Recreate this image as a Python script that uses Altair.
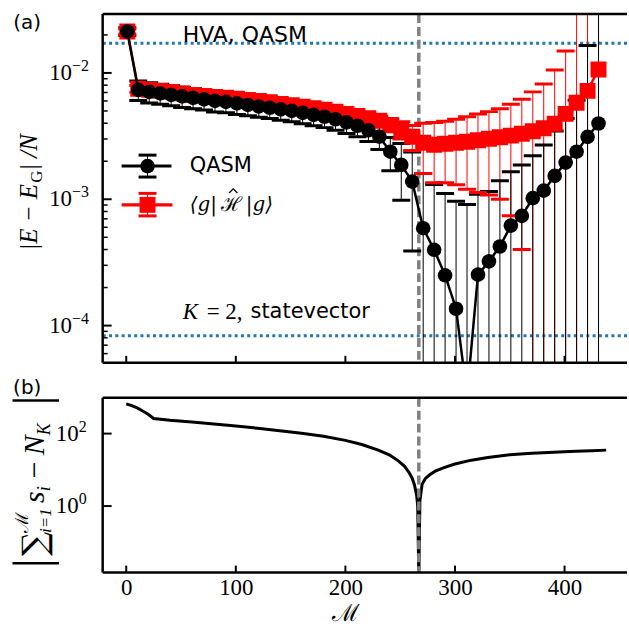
import altair as alt
import pandas as pd

# ---------------------------------------------------------------- data
# circuit depth index (x) for the energy-error points
M = [1, 11, 21, 31, 41, 51, 61, 71, 81, 91,
     101, 111, 121, 131, 141, 151, 161, 171, 181, 191,
     201, 211, 221, 231, 241, 251, 261, 271, 281, 291,
     301, 311, 321, 331, 341, 351, 361, 371, 381, 391,
     401, 411, 421, 431]

# QASM energy error |E - E_G|/N and its (symmetric) error bar
qasm = [2.13e-2, 7.34e-3, 7.08e-3, 6.89e-3, 6.70e-3, 6.52e-3, 6.35e-3, 6.18e-3, 6.01e-3, 5.90e-3,
        5.74e-3, 5.58e-3, 5.43e-3, 5.30e-3, 5.15e-3, 5.01e-3, 4.83e-3, 4.66e-3, 4.50e-3, 4.30e-3,
        4.06e-3, 3.82e-3, 3.52e-3, 3.13e-3, 2.38e-3, 1.87e-3, 1.38e-3, 5.90e-4, 3.98e-4, 2.50e-4,
        1.36e-4, 2.8e-5, 2.53e-4, 3.22e-4, 4.23e-4, 6.19e-4, 7.39e-4, 1.02e-3, 1.17e-3, 1.53e-3,
        1.95e-3, 2.38e-3, 3.12e-3, 3.98e-3]
qasm_err = [1.5e-3, 1.3e-3, 1.3e-3, 1.25e-3, 1.2e-3, 1.2e-3, 1.15e-3, 1.1e-3, 1.1e-3, 1.05e-3,
            1.05e-3, 1.0e-3, 9.8e-4, 9.5e-4, 9.3e-4, 9.0e-4, 8.7e-4, 8.4e-4, 8.1e-4, 7.8e-4,
            7.4e-4, 7.0e-4, 6.6e-4, 6.5e-4, 7.0e-4, 8.9e-4, 9.9e-4, 1.01e-3, 9.1e-4, 8.6e-4,
            8.3e-4, 8.8e-4, 8.4e-4, 8.3e-4, 9.8e-4, 1.03e-3, 1.13e-3, 1.19e-3, 1.52e-3, 1.94e-3,
            2.41e-3, 3.70e-3, 1.34e-2, 3.5e-2]

# <g|H|g> energy error and its error bar
g_val = [2.13e-2, 7.49e-3, 7.34e-3, 7.21e-3, 7.08e-3, 6.89e-3, 6.70e-3, 6.58e-3, 6.46e-3, 6.35e-3,
         6.24e-3, 6.12e-3, 6.01e-3, 5.85e-3, 5.69e-3, 5.54e-3, 5.39e-3, 5.25e-3, 5.11e-3, 4.92e-3,
         4.74e-3, 4.57e-3, 4.37e-3, 4.18e-3, 3.88e-3, 3.55e-3, 3.13e-3, 2.80e-3, 2.70e-3, 2.75e-3,
         2.80e-3, 2.85e-3, 2.93e-3, 3.01e-3, 3.10e-3, 3.19e-3, 3.30e-3, 3.45e-3, 3.65e-3, 3.96e-3,
         4.74e-3, 5.80e-3, 7.21e-3, 1.066e-2]
g_err = [1.0e-3, 4.5e-4, 4.4e-4, 4.3e-4, 4.2e-4, 4.1e-4, 4.0e-4, 4.0e-4, 3.9e-4, 3.8e-4,
         3.8e-4, 3.7e-4, 3.6e-4, 3.5e-4, 3.4e-4, 3.3e-4, 3.3e-4, 3.2e-4, 3.1e-4, 3.0e-4,
         3.0e-4, 3.0e-4, 3.2e-4, 3.6e-4, 4.5e-4, 5.5e-4, 7.0e-4, 1.2e-3, 1.35e-3, 1.4e-3,
         1.5e-3, 1.65e-3, 1.8e-3, 1.93e-3, 2.1e-3, 2.45e-3, 2.9e-3, 3.63e-3, 4.53e-3, 6.61e-3,
         1.02e-2, 3.0e-2, 3.0e-2, 3.0e-2]

hva_qasm_level = 1.72e-2      # HVA, QASM reference
statevector_level = 8.3e-5    # K = 2, statevector reference
m_star = 267                  # where the sum of s_i meets N_K

# |sum_{i<=M} s_i - N_K| as a function of M
m_line = [0, 5, 10, 15, 20, 25, 40, 60, 80, 100,
          120, 140, 160, 180, 200, 215, 230, 240, 248, 254,
          258, 261, 263, 265, 266, 267, 268, 270, 273, 277,
          282, 290, 300, 315, 330, 350, 370, 390, 410, 425, 438]
deviation = [660, 590, 510, 420, 340, 262, 232, 208, 185, 163,
             140, 120, 102, 84, 65, 50, 35, 26, 18, 12.5,
             8.5, 5.8, 3.9, 2.0, 1.0, 0.01, 1.4, 4.0, 5.8, 7.3,
             9.2, 11.5, 14.5, 18.5, 22, 26, 28.5, 30.5, 32.5, 33.8, 35]

x_ticks = [0, 100, 200, 300, 400]
top_major = [1e-4, 1e-3, 1e-2]
top_exp = ["\u22124", "\u22123", "\u22122"]
top_minor = [6e-5, 7e-5, 8e-5, 9e-5,
             2e-4, 3e-4, 4e-4, 5e-4, 6e-4, 7e-4, 8e-4, 9e-4,
             2e-3, 3e-3, 4e-3, 5e-3, 6e-3, 7e-3, 8e-3, 9e-3, 2e-2]
bot_major = [1, 100]
bot_exp = ["0", "2"]

# ---------------------------------------------------------------- styles
W = 526
H_TOP = 350
H_BOT = 175.4
SANS = "DejaVu Sans"
SERIF = "Liberation Serif"
BLUE = "#1f77b4"
GREY = "#808080"
RED = "#ff0000"

xs = alt.Scale(domain=[-21.5, 457], nice=False, zero=False)
ys_top = alt.Scale(type="log", domain=[5.07e-5, 0.0293], nice=False)
ys_bot = alt.Scale(type="log", domain=[0.0146, 977], nice=False)

x_axis_bottom = alt.Axis(values=x_ticks, ticks=False, domain=False, grid=False,
                         labelFont=SERIF, labelFontSize=23, labelColor="black",
                         labelPadding=4, labelFlush=False, labelOverlap=False,
                         title="\u2133", titleFont="DejaVu Serif", titleFontSize=24,
                         titleFontWeight="normal", titleColor="black", titlePadding=2,
                         titleX=244, titleAlign="center")

ONE = pd.DataFrame({"k": [0]})


def xt(field="M"):
    return alt.X(f"{field}:Q", scale=xs, axis=None)


def xb(field="M"):
    return alt.X(f"{field}:Q", scale=xs, axis=x_axis_bottom)


def yt(field):
    return alt.Y(f"{field}:Q", scale=ys_top, axis=None)


def yb(field):
    return alt.Y(f"{field}:Q", scale=ys_bot, axis=None)


def label(s, x, y, size, font=SANS, style="normal", align="left",
          baseline="middle", angle=0, color="black"):
    return alt.Chart(ONE).mark_text(
        text=s, font=font, fontSize=size, fontStyle=style, align=align,
        baseline=baseline, angle=angle, color=color
    ).encode(x=alt.value(x), y=alt.value(y))


def hseg(x1, x2, y, width, color="black"):
    return alt.Chart(ONE).mark_rule(color=color, strokeWidth=width).encode(
        x=alt.value(x1), x2=alt.value(x2), y=alt.value(y))


def vseg(x, y1, y2, width, color="black"):
    return alt.Chart(ONE).mark_rule(color=color, strokeWidth=width).encode(
        x=alt.value(x), y=alt.value(y1), y2=alt.value(y2))


def frame(h):
    return [hseg(0, W, 0, 2.5), hseg(0, W, h, 2.5), vseg(0, 0, h, 2.5)]


# ---------------------------------------------------------------- tables
df = pd.DataFrame({"M": M, "qasm": qasm, "qasm_err": qasm_err,
                   "g": g_val, "g_err": g_err})
FLOOR = 1e-9  # error bars reaching below zero run off the bottom of the log axis
df["qasm_lo"] = (df["qasm"] - df["qasm_err"]).clip(lower=FLOOR)
df["qasm_hi"] = df["qasm"] + df["qasm_err"]
df["g_lo"] = (df["g"] - df["g_err"]).clip(lower=FLOOR)
df["g_hi"] = df["g"] + df["g_err"]


def caps(val, err, lo, hi):
    upper = df[["M", hi]].rename(columns={hi: "y"})
    lower = df.loc[df[val] > df[err], ["M", lo]].rename(columns={lo: "y"})
    return pd.concat([upper, lower], ignore_index=True)


q_caps = caps("qasm", "qasm_err", "qasm_lo", "qasm_hi")
g_caps = caps("g", "g_err", "g_lo", "g_hi")

refs = pd.DataFrame({"y": [hva_qasm_level, statevector_level]})
star = pd.DataFrame({"M": [m_star]})
xt_df = pd.DataFrame({"M": x_ticks})
top_lab = pd.DataFrame({"v": top_major, "base": ["10"] * len(top_major), "exp": top_exp})
top_min = pd.DataFrame({"v": top_minor})
bot_lab = pd.DataFrame({"v": bot_major, "base": ["10"] * len(bot_major), "exp": bot_exp})
dev_df = pd.DataFrame({"M": m_line, "dev": deviation})

# ---------------------------------------------------------------- panel (a)
dotted = alt.Chart(refs).mark_rule(color=BLUE, strokeWidth=3, strokeDash=[3, 3.3],
                                   clip=True).encode(y=yt("y"))
dashed_top = alt.Chart(star).mark_rule(color=GREY, strokeWidth=3.5, strokeDash=[9, 4],
                                       clip=True).encode(x=xt())

g_bars = alt.Chart(df).mark_rule(color=RED, strokeWidth=1, clip=True).encode(
    x=xt(), y=yt("g_lo"), y2="g_hi:Q")
g_capm = alt.Chart(g_caps).mark_tick(color=RED, orient="horizontal", size=18,
                                     thickness=3, opacity=1, clip=True).encode(x=xt(), y=yt("y"))
g_line = alt.Chart(df).mark_line(color=RED, strokeWidth=2.5, clip=True).encode(x=xt(), y=yt("g"))
g_pts = alt.Chart(df).mark_point(shape="square", filled=True, size=256, color=RED,
                                 opacity=1, clip=True).encode(x=xt(), y=yt("g"))

q_bars = alt.Chart(df).mark_rule(color="black", strokeWidth=1, clip=True).encode(
    x=xt(), y=yt("qasm_lo"), y2="qasm_hi:Q")
q_capm = alt.Chart(q_caps).mark_tick(color="black", orient="horizontal", size=18,
                                     thickness=3, opacity=1, clip=True).encode(x=xt(), y=yt("y"))
q_line = alt.Chart(df).mark_line(color="black", strokeWidth=2.5, clip=True).encode(x=xt(), y=yt("qasm"))
q_pts = alt.Chart(df).mark_circle(size=215, color="black", opacity=1, clip=True).encode(
    x=xt(), y=yt("qasm"))

top_ticks = [
    alt.Chart(top_lab).mark_rule(color="black", strokeWidth=2).encode(
        y=yt("v"), x=alt.value(0), x2=alt.value(9)),
    alt.Chart(top_min).mark_rule(color="black", strokeWidth=1.5).encode(
        y=yt("v"), x=alt.value(0), x2=alt.value(5)),
    alt.Chart(xt_df).mark_rule(color="black", strokeWidth=2).encode(
        x=xt(), y=alt.value(H_TOP), y2=alt.value(H_TOP - 7)),
    alt.Chart(top_lab).mark_text(font=SERIF, fontSize=23, align="right", baseline="middle").encode(
        x=alt.value(-30.7), y=yt("v"), text="base:N"),
    alt.Chart(top_lab).mark_text(font=SERIF, fontSize=16, align="left", baseline="middle", dy=-7).encode(
        x=alt.value(-30.7), y=yt("v"), text="exp:N"),
]

LEG_G = 191.5  # vertical position of the <g|H|g> legend row
top_text = [
    label("(a)", -75.7, 9.3, 20, align="center"),
    label("HVA, QASM", 80.3, 20.8, 22),
    label("K", 80.3, 298.8, 23, font=SERIF, style="italic"),
    label("= 2,", 104.3, 298.8, 23, font=SERIF),
    label("statevector", 148.3, 298.8, 21),
    # legend
    hseg(19, 69, 152.6, 3),
    vseg(45, 141.6, 163.6, 1),
    hseg(36, 54, 141.6, 3),
    hseg(36, 54, 163.6, 3),
    alt.Chart(ONE).mark_circle(size=215, color="black", opacity=1).encode(
        x=alt.value(45), y=alt.value(152.6)),
    label("QASM", 87.3, 152.6, 21),
    hseg(19, 70, LEG_G, 3.3, RED),
    vseg(45, 180, 202.6, 1, RED),
    hseg(36, 54, 180, 3, RED),
    hseg(36, 54, 202.6, 3, RED),
    alt.Chart(ONE).mark_point(shape="square", filled=True, size=256, color=RED, opacity=1).encode(
        x=alt.value(45), y=alt.value(LEG_G)),
    label("\u27e8g|", 87.3, LEG_G, 20, font="DejaVu Serif", style="italic"),
    label("\u210b", 118.5, LEG_G, 20, font="DejaVu Serif"),
    # circumflex over the Hamiltonian symbol
    alt.Chart(ONE).mark_point(shape="M-1,0.5L0,-0.5L1,0.5", filled=False, size=70,
                              color="black", strokeWidth=1.3, opacity=1).encode(
        x=alt.value(131), y=alt.value(LEG_G - 14)),
    label("|g\u27e9", 143.5, LEG_G, 20, font="DejaVu Serif", style="italic"),
    # y title |E - E_G| / N
    label("|E \u2212 E", -65.7, 237.3, 25, font=SERIF, style="italic", baseline="alphabetic", angle=270),
    label("G", -60.7, 169.3, 17, font=SERIF, baseline="alphabetic", angle=270),
    label("| /N", -65.7, 157.3, 25, font=SERIF, style="italic", baseline="alphabetic", angle=270),
]

top = alt.layer(
    dotted, dashed_top,
    g_bars, q_bars, q_capm,
    g_capm, g_line, g_pts,
    q_line, q_pts,
    *top_ticks, *top_text, *frame(H_TOP),
).properties(width=W, height=H_TOP)

# ---------------------------------------------------------------- panel (b)
dev_line = alt.Chart(dev_df).mark_line(color="black", strokeWidth=3, clip=True).encode(
    x=xb(), y=yb("dev"))
dashed_bot = alt.Chart(star).mark_rule(color=GREY, strokeWidth=3.5, strokeDash=[9, 4],
                                       clip=True).encode(x=xb())

bot_ticks = [
    alt.Chart(bot_lab).mark_rule(color="black", strokeWidth=2).encode(
        y=yb("v"), x=alt.value(0), x2=alt.value(9)),
    alt.Chart(xt_df).mark_rule(color="black", strokeWidth=2).encode(
        x=xb(), y=alt.value(H_BOT), y2=alt.value(H_BOT - 7)),
    alt.Chart(bot_lab).mark_text(font=SERIF, fontSize=23, align="right", baseline="middle").encode(
        x=alt.value(-24), y=yb("v"), text="base:N"),
    alt.Chart(bot_lab).mark_text(font=SERIF, fontSize=16, align="left", baseline="middle", dy=-7).encode(
        x=alt.value(-24), y=yb("v"), text="exp:N"),
]

BX = -58.7  # baseline of the rotated y title
bot_text = [
    label("(b)", -75.7, -9.3, 20, align="center"),
    label("|", BX + 4, 171, 50, font=SERIF, baseline="alphabetic", angle=270),
    label("\u2211", BX + 2, 158.7, 34, font="DejaVu Serif", baseline="alphabetic", angle=270),
    label("\u2133", BX - 16, 135.7, 18, font="DejaVu Serif", baseline="alphabetic", angle=270),
    label("i=1", BX + 7, 135.7, 17, font=SERIF, style="italic", baseline="alphabetic", angle=270),
    label("s", BX, 105.7, 30, font=SERIF, style="italic", baseline="alphabetic", angle=270),
    label("i", BX + 6, 93.7, 18, font=SERIF, style="italic", baseline="alphabetic", angle=270),
    label("\u2212", BX, 80.7, 30, font=SERIF, baseline="alphabetic", angle=270),
    label("N", BX, 57.7, 30, font=SERIF, style="italic", baseline="alphabetic", angle=270),
    label("K", BX + 6, 37.7, 18, font=SERIF, style="italic", baseline="alphabetic", angle=270),
    label("|", BX + 4, 7.7, 50, font=SERIF, baseline="alphabetic", angle=270),
]

bottom = alt.layer(
    dev_line, dashed_bot, *bot_ticks, *bot_text, *frame(H_BOT),
).properties(width=W, height=H_BOT)

chart = alt.vconcat(top, bottom, spacing=13).properties(
    padding={"left": 8, "top": 11, "right": 0, "bottom": 2},
    background="white",
).configure_view(stroke=None)

chart.save("out.html", embed_options={"renderer": "svg", "actions": False})
